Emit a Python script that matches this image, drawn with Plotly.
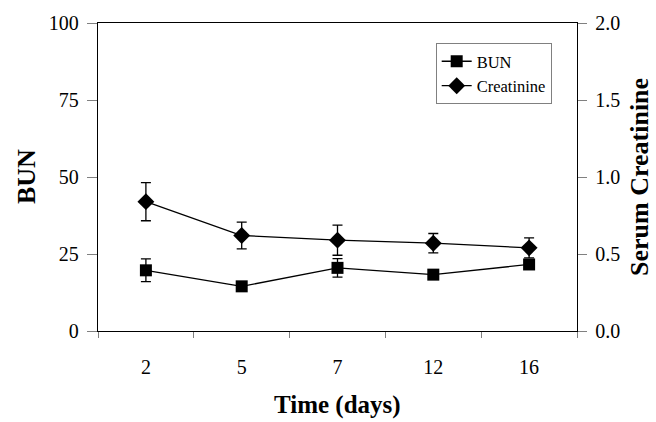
import plotly.graph_objects as go

days = ["2", "5", "7", "12", "16"]
bun = [19.7, 14.5, 20.5, 18.3, 21.6]
bun_err = [3.7, 0.8, 3.0, 0.8, 0.8]
creat = [0.84, 0.62, 0.59, 0.57, 0.54]
creat_err = [0.124, 0.087, 0.098, 0.063, 0.065]

FONT = "Liberation Serif"

fig = go.Figure()
fig.add_trace(go.Scatter(
    x=days, y=bun, name="BUN", mode="lines+markers",
    line=dict(color="black", width=1.3),
    marker=dict(symbol="square", size=12, color="black"),
    error_y=dict(type="data", array=bun_err, color="black", thickness=1.3, width=5),
    xaxis="x", yaxis="y",
))
fig.add_trace(go.Scatter(
    x=days, y=creat, name="Creatinine", mode="lines+markers",
    line=dict(color="black", width=1.3),
    marker=dict(symbol="diamond", size=13, color="black"),
    error_y=dict(type="data", array=creat_err, color="black", thickness=1.3, width=5),
    xaxis="x", yaxis="y2",
))

fig.update_layout(
    width=656, height=422,
    margin=dict(l=98, r=79, t=20, b=91),
    paper_bgcolor="white", plot_bgcolor="white",
    font=dict(family=FONT, size=20, color="black"),
    showlegend=True,
    legend=dict(
        x=0.705, y=0.935, xanchor="left", yanchor="top",
        bgcolor="white", bordercolor="#808080", borderwidth=1,
        font=dict(family=FONT, size=16.5, color="black"),
        itemwidth=30,
    ),
    xaxis=dict(
        type="category", range=[-0.5, 4.5],
        tickson="boundaries", ticks="outside", ticklen=6, tickcolor="#808080",
        showline=True, linecolor="black", linewidth=1.3, mirror=True,
        showgrid=False, zeroline=False, ticklabelstandoff=18,
        tickfont=dict(family=FONT, size=20),
    ),
    xaxis2=dict(
        overlaying="x", anchor="y", type="linear", range=[-0.5, 4.5],
        tickmode="array", tickvals=[-0.5, 0.5, 1.5, 2.5, 3.5, 4.5],
        ticks="inside", ticklen=7, tickcolor="#808080",
        showticklabels=False, showgrid=False, zeroline=False, showline=False,
    ),
    yaxis=dict(
        range=[0, 100], tickmode="array", tickvals=[0, 25, 50, 75, 100],
        ticks="outside", ticklen=10, tickcolor="#808080",
        showline=True, linecolor="black", linewidth=1.3,
        showgrid=False, zeroline=False, ticklabelstandoff=4,
        tickfont=dict(family=FONT, size=20),
    ),
    yaxis2=dict(
        overlaying="y", side="right", anchor="x",
        range=[0, 2], tickmode="array", tickvals=[0, 0.5, 1.0, 1.5, 2.0],
        ticktext=["0.0", "0.5", "1.0", "1.5", "2.0"],
        ticks="outside", ticklen=9, tickcolor="#808080",
        showline=True, linecolor="black", linewidth=1.3,
        showgrid=False, zeroline=False, ticklabelstandoff=4,
        tickfont=dict(family=FONT, size=20),
    ),
    annotations=[
        dict(text="<b>BUN</b>", xref="paper", yref="paper", x=0, y=0.5,
             xshift=-72, textangle=-90, showarrow=False,
             xanchor="center", yanchor="middle",
             font=dict(family=FONT, size=26, color="black")),
        dict(text="<b>Serum Creatinine</b>", xref="paper", yref="paper", x=1, y=0.5,
             xshift=62, textangle=-90, showarrow=False,
             xanchor="center", yanchor="middle",
             font=dict(family=FONT, size=26, color="black")),
        dict(text="<b>Time (days)</b>", xref="paper", yref="paper", x=0.5, y=0,
             yshift=-74, showarrow=False, xanchor="center", yanchor="middle",
             font=dict(family=FONT, size=25, color="black")),
    ],
)

fig.write_html(
    "out.html",
    config={"displayModeBar": False},
    post_script="document.body.style.margin='0';document.body.style.overflow='hidden';",
)
